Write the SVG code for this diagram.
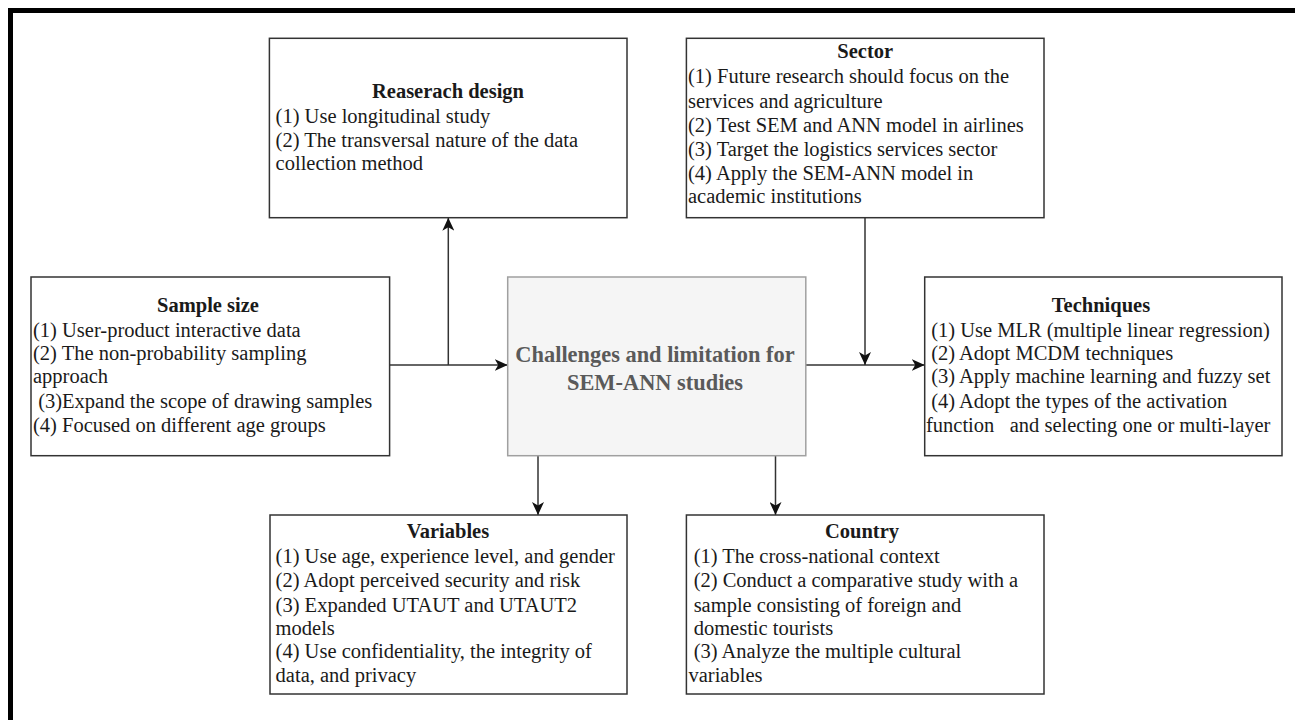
<svg xmlns="http://www.w3.org/2000/svg" width="1295" height="720" viewBox="0 0 1295 720">
<style>
.box{fill:#ffffff;stroke:#333333;stroke-width:1.5}
.cbox{fill:#f5f5f5;stroke:#a0a0a0;stroke-width:1.5}
.t{font-family:"Liberation Serif","Times New Roman",serif;font-size:20.5px;fill:#1a1a1a;white-space:pre}
.h{font-family:"Liberation Serif","Times New Roman",serif;font-size:20.5px;font-weight:bold;fill:#1a1a1a;text-anchor:middle}
.c{font-family:"Liberation Serif","Times New Roman",serif;font-size:22.4px;font-weight:bold;fill:#5a5a5a;text-anchor:middle}
.ln{fill:none;stroke:#333333;stroke-width:1.5}
</style>
<defs>
<marker id="arr" markerUnits="userSpaceOnUse" markerWidth="14" markerHeight="12" refX="13" refY="6" orient="auto">
<path d="M0,0 L13,6 L0,12 L3.5,6 Z" fill="#111111"/>
</marker>
</defs>
<rect width="1295" height="720" fill="#ffffff"/>
<path d="M10.5,720 V10.5 H1295" fill="none" stroke="#000000" stroke-width="5"/>

<g id="connectors">
<path class="ln" d="M389.6,365 H507.7" marker-end="url(#arr)"/>
<path class="ln" d="M448.3,365 V217.7" marker-end="url(#arr)"/>
<path class="ln" d="M805.8,365 H924.7" marker-end="url(#arr)"/>
<path class="ln" d="M865,217.7 V365" marker-end="url(#arr)"/>
<path class="ln" d="M538,455.7 V515" marker-end="url(#arr)"/>
<path class="ln" d="M775.5,455.7 V515" marker-end="url(#arr)"/>
</g>

<g id="research-design">
<rect class="box" x="269.4" y="38.3" width="357.6" height="179.4"/>
<text class="h" x="448" y="98.3">Reaserach design</text>
<text class="t" x="275.6" y="123.3">(1) Use longitudinal study</text>
<text class="t" x="275.6" y="146.7">(2) The transversal nature of the data</text>
<text class="t" x="275.6" y="170">collection method</text>
</g>

<g id="sector">
<rect class="box" x="686.4" y="38.3" width="357.6" height="179.4"/>
<text class="h" x="865.2" y="58.3">Sector</text>
<text class="t" x="688" y="83.3">(1) Future research should focus on the</text>
<text class="t" x="688" y="107.5">services and agriculture</text>
<text class="t" x="688" y="131.5">(2) Test SEM and ANN model in airlines</text>
<text class="t" x="688" y="155.5">(3) Target the logistics services sector</text>
<text class="t" x="688" y="179.5">(4) Apply the SEM-ANN model in</text>
<text class="t" x="688" y="203.3">academic institutions</text>
</g>

<g id="sample-size">
<rect class="box" x="31" y="277" width="358.6" height="178.7"/>
<text class="h" x="208" y="311.7">Sample size</text>
<text class="t" x="33" y="336.7">(1) User-product interactive data</text>
<text class="t" x="33" y="360">(2) The non-probability sampling</text>
<text class="t" x="33" y="383.3">approach</text>
<text class="t" x="33" y="408.3"> (3)Expand the scope of drawing samples</text>
<text class="t" x="33" y="431.7">(4) Focused on different age groups</text>
</g>

<g id="center">
<rect class="cbox" x="507.7" y="277" width="298.1" height="178.7"/>
<text class="c" x="655" y="361.7">Challenges and limitation for</text>
<text class="c" x="655" y="390">SEM-ANN studies</text>
</g>

<g id="techniques">
<rect class="box" x="924.7" y="277" width="357.3" height="178.7"/>
<text class="h" x="1101" y="311.7">Techniques</text>
<text class="t" x="926" y="336.7"> (1) Use MLR (multiple linear regression)</text>
<text class="t" x="926" y="360"> (2) Adopt MCDM techniques</text>
<text class="t" x="926" y="383.3"> (3) Apply machine learning and fuzzy set</text>
<text class="t" x="926" y="408.3"> (4) Adopt the types of the activation</text>
<text class="t" x="926" y="431.7">function   and selecting one or multi-layer</text>
</g>

<g id="variables">
<rect class="box" x="270" y="515" width="357" height="179"/>
<text class="h" x="448" y="538.3">Variables</text>
<text class="t" x="275.6" y="563.3">(1) Use age, experience level, and gender</text>
<text class="t" x="275.6" y="586.7">(2) Adopt perceived security and risk</text>
<text class="t" x="275.6" y="611.7">(3) Expanded UTAUT and UTAUT2</text>
<text class="t" x="275.6" y="635">models</text>
<text class="t" x="275.6" y="658.3">(4) Use confidentiality, the integrity of</text>
<text class="t" x="275.6" y="681.7">data, and privacy</text>
</g>

<g id="country">
<rect class="box" x="686.4" y="515" width="357.6" height="179"/>
<text class="h" x="862" y="538.3">Country</text>
<text class="t" x="688.5" y="563.3"> (1) The cross-national context</text>
<text class="t" x="688.5" y="586.7"> (2) Conduct a comparative study with a</text>
<text class="t" x="688.5" y="611.7"> sample consisting of foreign and</text>
<text class="t" x="688.5" y="635"> domestic tourists</text>
<text class="t" x="688.5" y="658.3"> (3) Analyze the multiple cultural</text>
<text class="t" x="688.5" y="681.7">variables</text>
</g>
</svg>
